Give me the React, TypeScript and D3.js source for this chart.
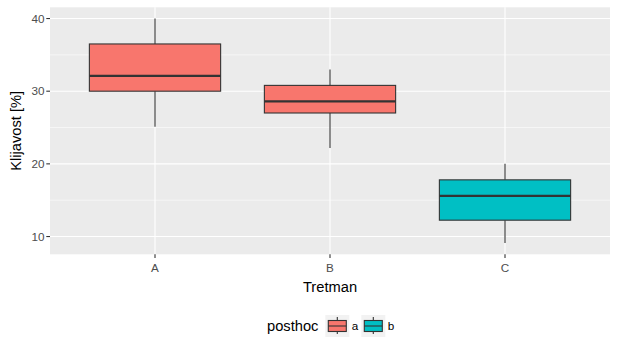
import React from "react";
import * as d3 from "d3";

// values
const categories = ["A", "B", "C"];
const lowerWhisker = [25.1, 22.2, 9.1];
const q1 = [30.0, 27.0, 12.25];
const median = [32.1, 28.6, 15.6];
const q3 = [36.5, 30.8, 17.8];
const upperWhisker = [40.0, 33.0, 20.0];
const posthoc = ["a", "a", "b"];
const groups = ["a", "b"];
const yTicks = [10, 20, 30, 40];
const yMinor = [15, 25, 35];

const W = 619;
const H = 352;
const FONT = "'Liberation Sans', Arial, sans-serif";

export default function App() {
  const panel = { left: 50, right: 610, top: 7.3, bottom: 254.3 };

  const lo = d3.min(lowerWhisker)!;
  const hi = d3.max(upperWhisker)!;
  const pad = (hi - lo) * 0.05;
  const y = d3.scaleLinear().domain([lo - pad, hi + pad]).range([panel.bottom, panel.top]);

  const x = d3.scalePoint<string>().domain(categories).range([panel.left, panel.right]).padding(0.6);
  const boxW = x.step() * 0.75;

  const color = d3.scaleOrdinal<string, string>().domain(groups).range(["#F8766D", "#00BFC4"]);

  const data = categories.map((c, i) => ({
    cat: c,
    lw: lowerWhisker[i],
    q1: q1[i],
    med: median[i],
    q3: q3[i],
    uw: upperWhisker[i],
    grp: posthoc[i],
  }));

  // legend layout
  const keyY = 326;
  const keyW = 18;
  const keyH = 11;
  const legendKeys = [328.3, 364.3];

  return (
    <svg width={W} height={H} style={{ position: "absolute", left: 0, top: 0, background: "#fff" }}>
      <rect x={panel.left} y={panel.top} width={panel.right - panel.left} height={panel.bottom - panel.top} fill="#EBEBEB" />
      {yMinor.map((t) => (
        <line key={"mn" + t} x1={panel.left} x2={panel.right} y1={y(t)} y2={y(t)} stroke="#fff" strokeWidth={0.55} />
      ))}
      {yTicks.map((t) => (
        <line key={"mj" + t} x1={panel.left} x2={panel.right} y1={y(t)} y2={y(t)} stroke="#fff" strokeWidth={1.1} />
      ))}
      {categories.map((c) => (
        <line key={"vx" + c} x1={x(c)} x2={x(c)} y1={panel.top} y2={panel.bottom} stroke="#fff" strokeWidth={1.1} />
      ))}

      {data.map((d) => {
        const cx = x(d.cat)!;
        return (
          <g key={d.cat}>
            <line x1={cx} x2={cx} y1={y(d.uw)} y2={y(d.q3)} stroke="#333" strokeWidth={1.1} />
            <line x1={cx} x2={cx} y1={y(d.q1)} y2={y(d.lw)} stroke="#333" strokeWidth={1.1} />
            <rect
              x={cx - boxW / 2}
              y={y(d.q3)}
              width={boxW}
              height={y(d.q1) - y(d.q3)}
              fill={color(d.grp)}
              stroke="#333"
              strokeWidth={1.1}
            />
            <line x1={cx - boxW / 2} x2={cx + boxW / 2} y1={y(d.med)} y2={y(d.med)} stroke="#333" strokeWidth={2.2} />
          </g>
        );
      })}

      {/* y axis */}
      {yTicks.map((t) => (
        <g key={"yt" + t}>
          <line x1={panel.left - 3.7} x2={panel.left} y1={y(t)} y2={y(t)} stroke="#333" strokeWidth={1.1} />
          <text x={panel.left - 5.5} y={y(t)} dy="0.35em" textAnchor="end" fontFamily={FONT} fontSize={11.7} fill="#4D4D4D">
            {t}
          </text>
        </g>
      ))}
      {/* x axis */}
      {categories.map((c) => (
        <g key={"xt" + c}>
          <line x1={x(c)} x2={x(c)} y1={panel.bottom} y2={panel.bottom + 3.7} stroke="#333" strokeWidth={1.1} />
          <text x={x(c)} y={272} textAnchor="middle" fontFamily={FONT} fontSize={11.7} fill="#4D4D4D">
            {c}
          </text>
        </g>
      ))}

      <text x={(panel.left + panel.right) / 2} y={292} textAnchor="middle" fontFamily={FONT} fontSize={14.7} fill="#000">
        Tretman
      </text>
      <text
        transform={`translate(21,${(panel.top + panel.bottom) / 2}) rotate(-90)`}
        textAnchor="middle"
        fontFamily={FONT}
        fontSize={14.7}
        fill="#000"
      >
        Klijavost [%]
      </text>

      {/* legend */}
      <text x={267} y={keyY + 5} fontFamily={FONT} fontSize={14.7} fill="#000">
        posthoc
      </text>
      {groups.map((g, i) => {
        const kx = legendKeys[i];
        const mx = kx + keyW / 2;
        return (
          <g key={"lg" + g}>
            <rect x={kx - 3} y={keyY - 11} width={keyW + 6} height={22} fill="#F2F2F2" />
            <line x1={mx} x2={mx} y1={keyY - 9} y2={keyY + 8} stroke="#333" strokeWidth={1.1} />
            <rect x={kx} y={keyY - keyH / 2} width={keyW} height={keyH} fill={color(g)} stroke="#333" strokeWidth={1.1} />
            <line x1={kx} x2={kx + keyW} y1={keyY} y2={keyY} stroke="#333" strokeWidth={1.1} />
            <text x={kx + keyW + 5.5} y={keyY} dy="0.35em" fontFamily={FONT} fontSize={11.7} fill="#000">
              {g}
            </text>
          </g>
        );
      })}
    </svg>
  );
}
